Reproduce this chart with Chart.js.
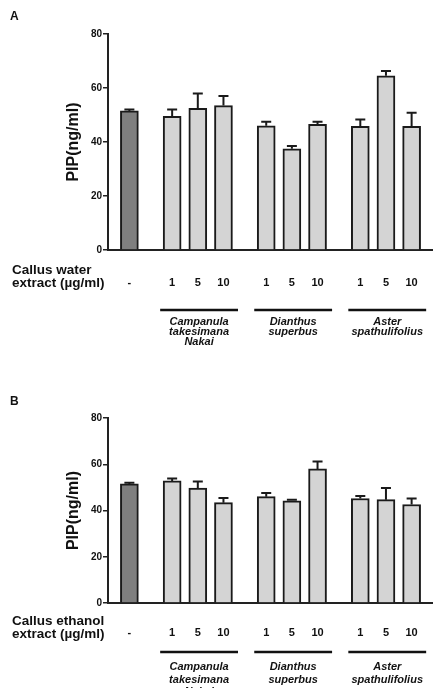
<!DOCTYPE html>
<html>
<head>
<meta charset="utf-8">
<script src="https://cdn.jsdelivr.net/npm/chart.js@4.4.1/dist/chart.umd.min.js"></script>
<style>
  html, body { margin: 0; padding: 0; background: #fff; }
  .panel { position: relative; width: 433px; }
  #panelA { height: 350px; }
  #panelB { height: 338px; }
</style>
</head>
<body>
<div class="panel" id="panelA"><canvas id="chartA"></canvas></div>
<div class="panel" id="panelB"><canvas id="chartB"></canvas></div>
<script>
// data
const controlLabel = "-";
const doses = ["1", "5", "10"];
const species = [
  ["Campanula", "takesimana", "Nakai"],
  ["Dianthus", "superbus"],
  ["Aster", "spathulifolius"]
];
const yTicks = [0, 20, 40, 60, 80];

// control, then Campanula 1/5/10, Dianthus 1/5/10, Aster 1/5/10
const waterMeans = [51.5, 49.5, 52.5, 53.5, 46.0, 37.5, 46.5, 45.8, 64.5, 45.8];
const waterSEM = [0.5, 2.5, 5.5, 3.5, 1.5, 1.0, 1.0, 2.5, 1.8, 5.0];
const ethanolMeans = [51.5, 52.8, 49.7, 43.4, 46.0, 44.2, 58.0, 45.2, 44.7, 42.6];
const ethanolSEM = [0.5, 1.0, 2.8, 2.0, 1.6, 0.4, 3.2, 1.1, 5.0, 2.6];

const FONT = '"Liberation Sans", Arial, Helvetica, sans-serif';
const INK = "#111";
Chart.defaults.font.family = FONT;
Chart.defaults.color = INK;

// slot layout on a fine category grid (blank slots make the gaps)
const LEAD = 2, GAP = 4, STEP = 3, TRAIL = 2;

function buildSlots(means, sem) {
  const out = { labels: [], data: [], errors: [], colors: [], groups: [] };
  const push = (label, v, e, c, g) => {
    out.labels.push(label); out.data.push(v); out.errors.push(e);
    out.colors.push(c); out.groups.push(g);
  };
  const blank = n => { for (let i = 0; i < n; i++) push("", null, null, null, null); };
  blank(LEAD);
  push(controlLabel, means[0], sem[0], "#7f7f7f", null);
  let k = 1;
  species.forEach((sp, g) => {
    blank(GAP);
    doses.forEach((d, j) => {
      if (j > 0) blank(STEP - 1);
      push(d, means[k], sem[k], "#d4d4d4", g);
      k++;
    });
  });
  blank(TRAIL);
  return out;
}

// error bars (upper only)
const errorBars = {
  id: "errorBars",
  afterDatasetsDraw(chart, args, opts) {
    const { ctx } = chart;
    const y = chart.scales.y;
    const ds = chart.data.datasets[0];
    const meta = chart.getDatasetMeta(0);
    ctx.save();
    ctx.strokeStyle = opts.color;
    ctx.lineWidth = opts.width;
    meta.data.forEach((bar, i) => {
      const v = ds.data[i];
      if (v == null || ds.errors[i] == null) return;
      const top = y.getPixelForValue(v + ds.errors[i]);
      ctx.beginPath();
      ctx.moveTo(bar.x, bar.y);
      ctx.lineTo(bar.x, top);
      ctx.moveTo(bar.x - opts.cap / 2, top);
      ctx.lineTo(bar.x + opts.cap / 2, top);
      ctx.stroke();
    });
    ctx.restore();
  }
};

// panel letter, extract label, species underlines and names
const panelText = {
  id: "panelText",
  afterDraw(chart, args, opts) {
    const { ctx, chartArea } = chart;
    const x = chart.scales.x;
    const groups = chart.data.datasets[0].groups;
    const bottom = chartArea.bottom;
    const unit = x.getPixelForValue(1) - x.getPixelForValue(0);
    ctx.save();
    ctx.fillStyle = INK;
    ctx.textBaseline = "middle";

    ctx.font = "bold 12px " + FONT;
    ctx.textAlign = "left";
    ctx.fillText(opts.letter, 10, opts.letterY);

    ctx.font = "bold 13.5px " + FONT;
    opts.extract.forEach((line, i) => {
      ctx.fillText(line, 12, bottom + opts.extractY + i * opts.extractGap);
    });

    species.forEach((names, g) => {
      const idx = [];
      groups.forEach((gg, i) => { if (gg === g) idx.push(i); });
      const x0 = x.getPixelForValue(idx[0]) - 1.4 * unit;
      const x1 = x.getPixelForValue(idx[idx.length - 1]) + 1.7 * unit;
      const lineY = bottom + opts.lineY;
      ctx.strokeStyle = INK;
      ctx.lineWidth = 2.5;
      ctx.beginPath();
      ctx.moveTo(x0, lineY);
      ctx.lineTo(x1, lineY);
      ctx.stroke();

      ctx.font = "italic bold 11px " + FONT;
      ctx.textAlign = "center";
      names.forEach((n, i) => {
        ctx.fillText(n, (x0 + x1) / 2, bottom + opts.nameY + i * opts.nameGap);
      });
    });
    ctx.restore();
  }
};

function makeChart(canvasId, means, sem, p) {
  const s = buildSlots(means, sem);
  return new Chart(document.getElementById(canvasId), {
    type: "bar",
    data: {
      labels: s.labels,
      datasets: [{
        data: s.data,
        errors: s.errors,
        groups: s.groups,
        backgroundColor: s.colors,
        borderColor: "#1a1a1a",
        borderWidth: 2,
        barThickness: 18
      }]
    },
    options: {
      responsive: true,
      maintainAspectRatio: false,
      animation: false,
      layout: { padding: { top: p.top, left: 0, right: 0, bottom: 0 } },
      plugins: {
        legend: { display: false },
        tooltip: { enabled: false },
        errorBars: { color: "#1a1a1a", width: 2, cap: 10 },
        panelText: p.text
      },
      scales: {
        x: {
          type: "category",
          offset: true,
          // invisible tick marks push the dose labels down
          grid: { display: true, drawOnChartArea: false, drawTicks: true, tickLength: p.tickLen, color: "rgba(0,0,0,0)" },
          border: { display: true, color: "#222", width: 2 },
          ticks: {
            autoSkip: false, maxRotation: 0, padding: 2,
            font: { size: 11, weight: "bold" }, color: INK
          },
          afterFit: sc => { sc.height = p.xHeight; }
        },
        y: {
          min: 0, max: 80,
          afterBuildTicks: sc => { sc.ticks = yTicks.map(v => ({ value: v })); },
          grid: { drawOnChartArea: false, drawTicks: true, tickLength: 5, color: "#222", lineWidth: 1.5 },
          border: { display: true, color: "#222", width: 2 },
          ticks: { padding: 1, font: { size: 10, weight: "bold" }, color: INK },
          title: {
            display: true, text: "PIP(ng/ml)", color: INK,
            font: { size: 16, weight: "bold" }, padding: { top: 64, bottom: 0 }
          },
          afterFit: sc => { sc.width = 108; }
        }
      }
    },
    plugins: [errorBars, panelText]
  });
}

makeChart("chartA", waterMeans, waterSEM, {
  top: 34, xHeight: 100, tickLen: 24,
  text: {
    letter: "A", letterY: 17,
    extract: ["Callus water", "extract (\u00b5g/ml)"], extractY: 20, extractGap: 13,
    lineY: 60, nameY: 72, nameGap: 9.8
  }
});

makeChart("chartB", ethanolMeans, ethanolSEM, {
  top: 68, xHeight: 85, tickLen: 21,
  text: {
    letter: "B", letterY: 52,
    extract: ["Callus ethanol", "extract (\u00b5g/ml)"], extractY: 18, extractGap: 13,
    lineY: 49, nameY: 64, nameGap: 12.5
  }
});
</script>
</body>
</html>
